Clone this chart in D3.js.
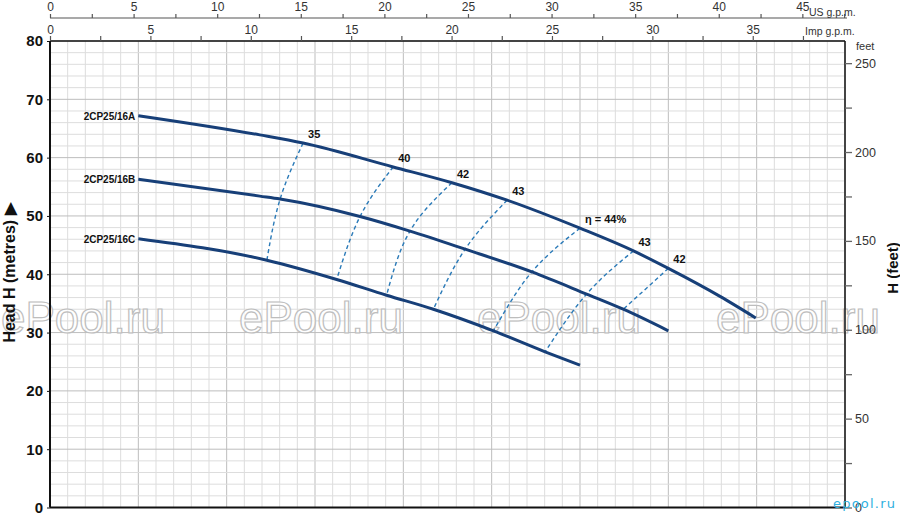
<!DOCTYPE html>
<html>
<head>
<meta charset="utf-8">
<script src="https://cdn.jsdelivr.net/npm/d3@7"></script>
<style>
  html, body { margin: 0; padding: 0; background: #fff; }
  svg { display: block; font-family: "Liberation Sans", Arial, sans-serif; }
</style>
</head>
<body>
<svg id="chart" width="900" height="515"></svg>
<script>
// ---------- data (flow in l/min, head in metres) ----------
const curveNames = ["2CP25/16A", "2CP25/16B", "2CP25/16C"];
const flowA = [20, 47.5, 57.3, 77.7, 91, 103.5, 120, 132.1, 140, 151.7, 159.8];
const headA = [67.2, 63.9, 62.5, 58.4, 55.7, 52.7, 47.9, 44.0, 41.0, 36.2, 32.5];
const flowB = [20, 47.5, 52.1, 70.2, 81.5, 94, 109.1, 121.5, 129.8, 140];
const headB = [56.3, 53.4, 52.9, 49.9, 47.4, 44.3, 40.4, 36.6, 34.0, 30.3];
const flowC = [20, 49.1, 64.9, 76.2, 86.8, 100.4, 112.1, 120];
const headC = [46.1, 42.4, 39.1, 36.4, 34.0, 30.3, 26.7, 24.4];

const effLabels = ["35", "40", "42", "43", "η = 44%", "43", "42"];
const effFlow = [[57.3, 52.1, 49.1], [77.7, 70.2, 64.9], [91, 81.5, 76.2], [103.5, 94, 86.8],
                 [120, 109.1, 100.4], [132.1, 121.5, 112.1], [140, 129.8]];
const effHead = [[62.5, 52.9, 42.4], [58.4, 49.9, 39.1], [55.7, 47.4, 36.4], [52.7, 44.3, 34.0],
                 [47.9, 40.4, 30.3], [44.0, 36.6, 26.7], [41.0, 34.0]];

const headTicks = [0, 10, 20, 30, 40, 50, 60, 70, 80];
const usTickLabels = [0, 5, 10, 15, 20, 25, 30, 35, 40, 45];
const impTickLabels = [0, 5, 10, 15, 20, 25, 30, 35];
const feetTickLabels = [0, 50, 100, 150, 200, 250];
const watermarks = ["ePool.ru", "ePool.ru", "ePool.ru", "ePool.ru"];

// ---------- layout ----------
const svg = d3.select("#chart");
const L = 50, R = 845, T = 41, B = 507.5;
const flowMax = 180, headMax = 80;
const x = d3.scaleLinear().domain([0, flowMax]).range([L, R]);
const y = d3.scaleLinear().domain([0, headMax]).range([B, T]);

// grid
const grid = svg.append("g");
d3.range(0, flowMax + 0.001, 4).forEach(v => {
  grid.append("line").attr("x1", x(v)).attr("x2", x(v)).attr("y1", T).attr("y2", B)
    .attr("stroke", v % 20 === 0 ? "#bdbdbd" : "#dddddd").attr("stroke-width", 1);
});
d3.range(0, headMax + 0.001, 2).forEach(v => {
  grid.append("line").attr("x1", L).attr("x2", R).attr("y1", y(v)).attr("y2", y(v))
    .attr("stroke", v % 10 === 0 ? "#bdbdbd" : "#dddddd").attr("stroke-width", 1);
});

// watermarks
const wmX = [1, 239, 477, 716];
watermarks.forEach((t, i) => {
  svg.append("text").attr("x", wmX[i]).attr("y", 333).text(t)
    .attr("font-size", 44).attr("fill", "#ffffff").attr("fill-opacity", 0.75)
    .attr("stroke", "#bdbdbd").attr("stroke-width", 1.2)
    .attr("font-family", "'Liberation Sans', Arial, sans-serif");
});

// frame
svg.append("line").attr("x1", L).attr("x2", R).attr("y1", T).attr("y2", T).attr("stroke", "#111").attr("stroke-width", 1.5);
svg.append("line").attr("x1", R).attr("x2", R).attr("y1", T).attr("y2", B).attr("stroke", "#111").attr("stroke-width", 1.5);
svg.append("line").attr("x1", L).attr("x2", R).attr("y1", B).attr("y2", B).attr("stroke", "#111").attr("stroke-width", 2);
svg.append("line").attr("x1", L).attr("x2", L).attr("y1", T).attr("y2", B).attr("stroke", "#111").attr("stroke-width", 2);

// left axis labels
const yAxis = d3.axisLeft(y).tickValues(headTicks).tickSize(3).tickPadding(4);
const gy = svg.append("g").attr("transform", `translate(${L},0)`).call(yAxis);
gy.select(".domain").remove();
gy.selectAll("text").attr("font-size", 15).attr("font-weight", "bold").attr("fill", "#111")
  .attr("font-family", "'Liberation Sans', Arial, sans-serif");
gy.selectAll("line").attr("stroke", "#111");

// left title
svg.append("text").attr("transform", "translate(15,273) rotate(-90)")
  .attr("text-anchor", "middle").attr("font-size", 16).attr("font-weight", "bold").attr("fill", "#111")
  .text("Head H  (metres) ▶");

// right axis (feet)
const mToFt = 3.28084;
const yf = d3.scaleLinear().domain([0, headMax * mToFt]).range([B, T]);
const rAxis = d3.axisRight(yf).tickValues(d3.range(0, 251, 25)).tickSize(7).tickPadding(3)
  .tickFormat(d => feetTickLabels.includes(d) ? d : "");
const gr = svg.append("g").attr("transform", `translate(${R},0)`).call(rAxis);
gr.select(".domain").remove();
gr.selectAll("line").attr("stroke", "#666").attr("stroke-width", 1.3);
gr.selectAll("text").attr("font-size", 12.5).attr("fill", "#333")
  .attr("font-family", "'Liberation Sans', Arial, sans-serif");
svg.append("text").attr("x", 856).attr("y", 50).attr("font-size", 11).attr("fill", "#333").text("feet");
svg.append("text").attr("transform", "translate(898,268) rotate(-90)")
  .attr("text-anchor", "middle").attr("font-size", 15).attr("font-weight", "bold").attr("fill", "#111")
  .text("H (feet)");

// top axes
const usToL = 3.78541, impToL = 4.54609;
const xUS = d3.scaleLinear().domain([0, flowMax / usToL]).range([L, R]);
const xImp = d3.scaleLinear().domain([0, flowMax / impToL]).range([L, R]);
const usAxis = d3.axisTop(xUS).tickValues(d3.range(0, 47.6, 2.5)).tickSize(4).tickPadding(3)
  .tickFormat(d => usTickLabels.includes(d) ? d : "");
const gus = svg.append("g").attr("transform", "translate(0,18)").call(usAxis);
gus.select(".domain").attr("d", `M${L},0H${R + 2}`).attr("stroke", "#555").attr("stroke-width", 1.2);
gus.selectAll("line").attr("stroke", "#555").attr("stroke-width", 1.2);
gus.selectAll("text").attr("font-size", 12).attr("fill", "#333")
  .attr("font-family", "'Liberation Sans', Arial, sans-serif");
const impAxis = d3.axisTop(xImp).tickValues(d3.range(0, 37.6, 2.5)).tickSize(5).tickPadding(2)
  .tickFormat(d => impTickLabels.includes(d) ? d : "");
const gimp = svg.append("g").attr("transform", `translate(0,${T})`).call(impAxis);
gimp.select(".domain").remove();
gimp.selectAll("line").attr("stroke", "#555").attr("stroke-width", 1.2);
gimp.selectAll("text").attr("font-size", 12).attr("fill", "#333")
  .attr("font-family", "'Liberation Sans', Arial, sans-serif");
svg.append("text").attr("x", 809).attr("y", 16).attr("font-size", 10.5).attr("fill", "#333").text("US g.p.m.");
svg.append("text").attr("x", 805).attr("y", 35).attr("font-size", 10.5).attr("fill", "#333").text("Imp g.p.m.");

// efficiency lines
const effLine = d3.line().x(d => x(d[0])).y(d => y(d[1])).curve(d3.curveNatural);
effFlow.forEach((fl, i) => {
  const pts = fl.map((f, j) => [f, effHead[i][j]]);
  svg.append("path").attr("d", effLine(pts)).attr("fill", "none")
    .attr("stroke", "#2a7ab8").attr("stroke-width", 1.4).attr("stroke-dasharray", "4,3");
  svg.append("text").attr("x", x(fl[0]) + 5).attr("y", y(effHead[i][0]) - 5)
    .attr("font-size", 11).attr("font-weight", "bold").attr("fill", "#111").text(effLabels[i]);
});

// pump curves
const curveLine = d3.line().x(d => x(d[0])).y(d => y(d[1])).curve(d3.curveMonotoneX);
const flows = [flowA, flowB, flowC], heads = [headA, headB, headC];
flows.forEach((fl, i) => {
  const pts = fl.map((f, j) => [f, heads[i][j]]);
  svg.append("path").attr("d", curveLine(pts)).attr("fill", "none")
    .attr("stroke", "#173f78").attr("stroke-width", 3).attr("stroke-linecap", "butt");
  svg.append("text").attr("x", x(fl[0]) - 3).attr("y", y(heads[i][0]) + 4)
    .attr("text-anchor", "end").attr("font-size", 10).attr("font-weight", "bold").attr("fill", "#111")
    .text(curveNames[i]);
});

// corner watermark
svg.append("text").attr("x", 833).attr("y", 508).attr("font-size", 13).attr("fill", "#2fb0e0")
  .attr("textLength", 62).attr("font-family", "'DejaVu Sans', sans-serif").text("epool.ru");
</script>
</body>
</html>
